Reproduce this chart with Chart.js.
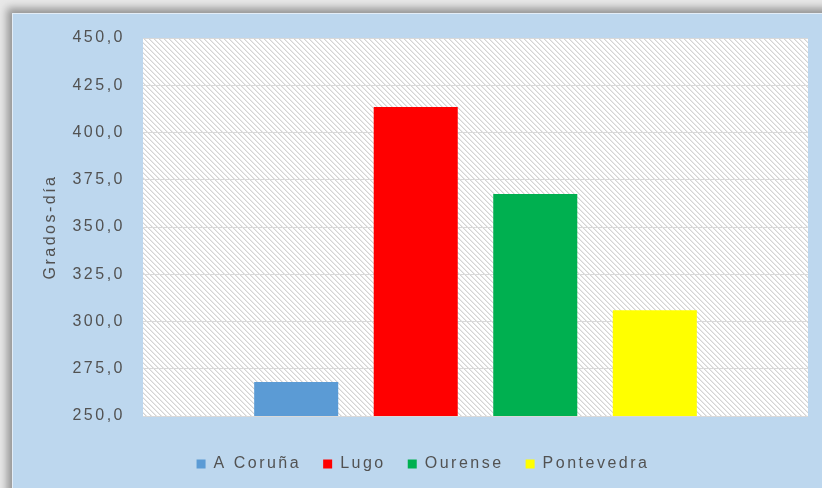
<!DOCTYPE html>
<html>
<head>
<meta charset="utf-8">
<script src="https://cdn.jsdelivr.net/npm/chart.js@4/dist/chart.umd.min.js"></script>
<style>
  html, body { margin: 0; padding: 0; }
  body {
    width: 822px; height: 488px; overflow: hidden; position: relative;
    background: #e8e8e8;
  }
  #panel {
    position: absolute; left: 12px; top: 13px; width: 820px; height: 485px;
    background: #bdd7ee;
    border-top: 1px solid #e3edf7; border-left: 1px solid #e3edf7;
    box-shadow: -3px -3px 8px 2px rgba(0,0,0,0.36);
  }
  #wrap { position: absolute; left: 0; top: 0; width: 822px; height: 488px; }
</style>
</head>
<body>
<div id="panel"></div>
<div id="wrap"><canvas id="chart"></canvas></div>
<script>
// Grados-día por provincia
const provincias = ['A Coruña', 'Lugo', 'Ourense', 'Pontevedra'];
const gradosDia = [268, 413.5, 367.5, 306];
const colores = ['#5b9bd5', '#ff0000', '#00b050', '#ffff00'];
const yTicks = [250, 275, 300, 325, 350, 375, 400, 425, 450];

const TEXT = '#525252';
const FONT = { family: '"Liberation Sans", Arial, sans-serif', size: 16 };
const SPACING = '2.5px';

// diagonal hatch used as the plot-area background
function hatchPattern(ctx) {
  const p = 5;
  const c = document.createElement('canvas');
  c.width = p; c.height = p;
  const g = c.getContext('2d');
  g.fillStyle = '#ffffff';
  g.fillRect(0, 0, p, p);
  for (let y = 0; y < p; y++) {
    for (let x = 0; x < p; x++) {
      const k = ((x - y) % p + p) % p;
      if (k === 0) { g.fillStyle = '#d4d4d4'; g.fillRect(x, y, 1, 1); }
      else if (k === 1) { g.fillStyle = '#eaeaea'; g.fillRect(x, y, 1, 1); }
    }
  }
  return ctx.createPattern(c, 'repeat');
}

const spacing = {
  id: 'spacing',
  beforeLayout(chart) { chart.ctx.letterSpacing = SPACING; },
  beforeDraw(chart) {
    const ctx = chart.ctx;
    ctx.letterSpacing = SPACING;
    const a = chart.chartArea;
    ctx.save();
    ctx.fillStyle = hatchPattern(ctx);
    ctx.fillRect(a.left, a.top, a.right - a.left, a.bottom - a.top);
    ctx.restore();
  }
};

const datasets = provincias.map((p, i) => ({
  label: p,
  data: [gradosDia[i]],
  backgroundColor: colores[i],
  borderWidth: 0,
  categoryPercentage: 0.719,
  barPercentage: 0.703
}));

new Chart(document.getElementById('chart'), {
  type: 'bar',
  data: { labels: [''], datasets },
  plugins: [spacing],
  options: {
    responsive: true,
    maintainAspectRatio: false,
    animation: false,
    layout: { padding: { left: 38, right: 14, top: 38, bottom: 6 } },
    plugins: {
      tooltip: { enabled: false },
      legend: {
        position: 'bottom',
        labels: {
          boxWidth: 9, boxHeight: 9, padding: 22,
          color: TEXT, font: FONT
        }
      }
    },
    scales: {
      x: {
        grid: { display: false },
        border: { display: false },
        ticks: { display: false },
        afterFit(s) { s.height = 18; }
      },
      y: {
        min: 250, max: 450,
        afterBuildTicks(s) { s.ticks = yTicks.map(v => ({ value: v })); },
        afterFit(s) { s.width = 105; },
        grid: { color: '#d9d9d9', lineWidth: 1, drawTicks: false },
        border: { display: false },
        ticks: {
          color: TEXT, font: FONT, padding: 18,
          callback: v => v.toFixed(1).replace('.', ',')
        },
        title: {
          display: true, text: 'Grados-día', color: TEXT, font: FONT,
          padding: { top: 3, bottom: 0 }
        }
      }
    }
  }
});
</script>
</body>
</html>
